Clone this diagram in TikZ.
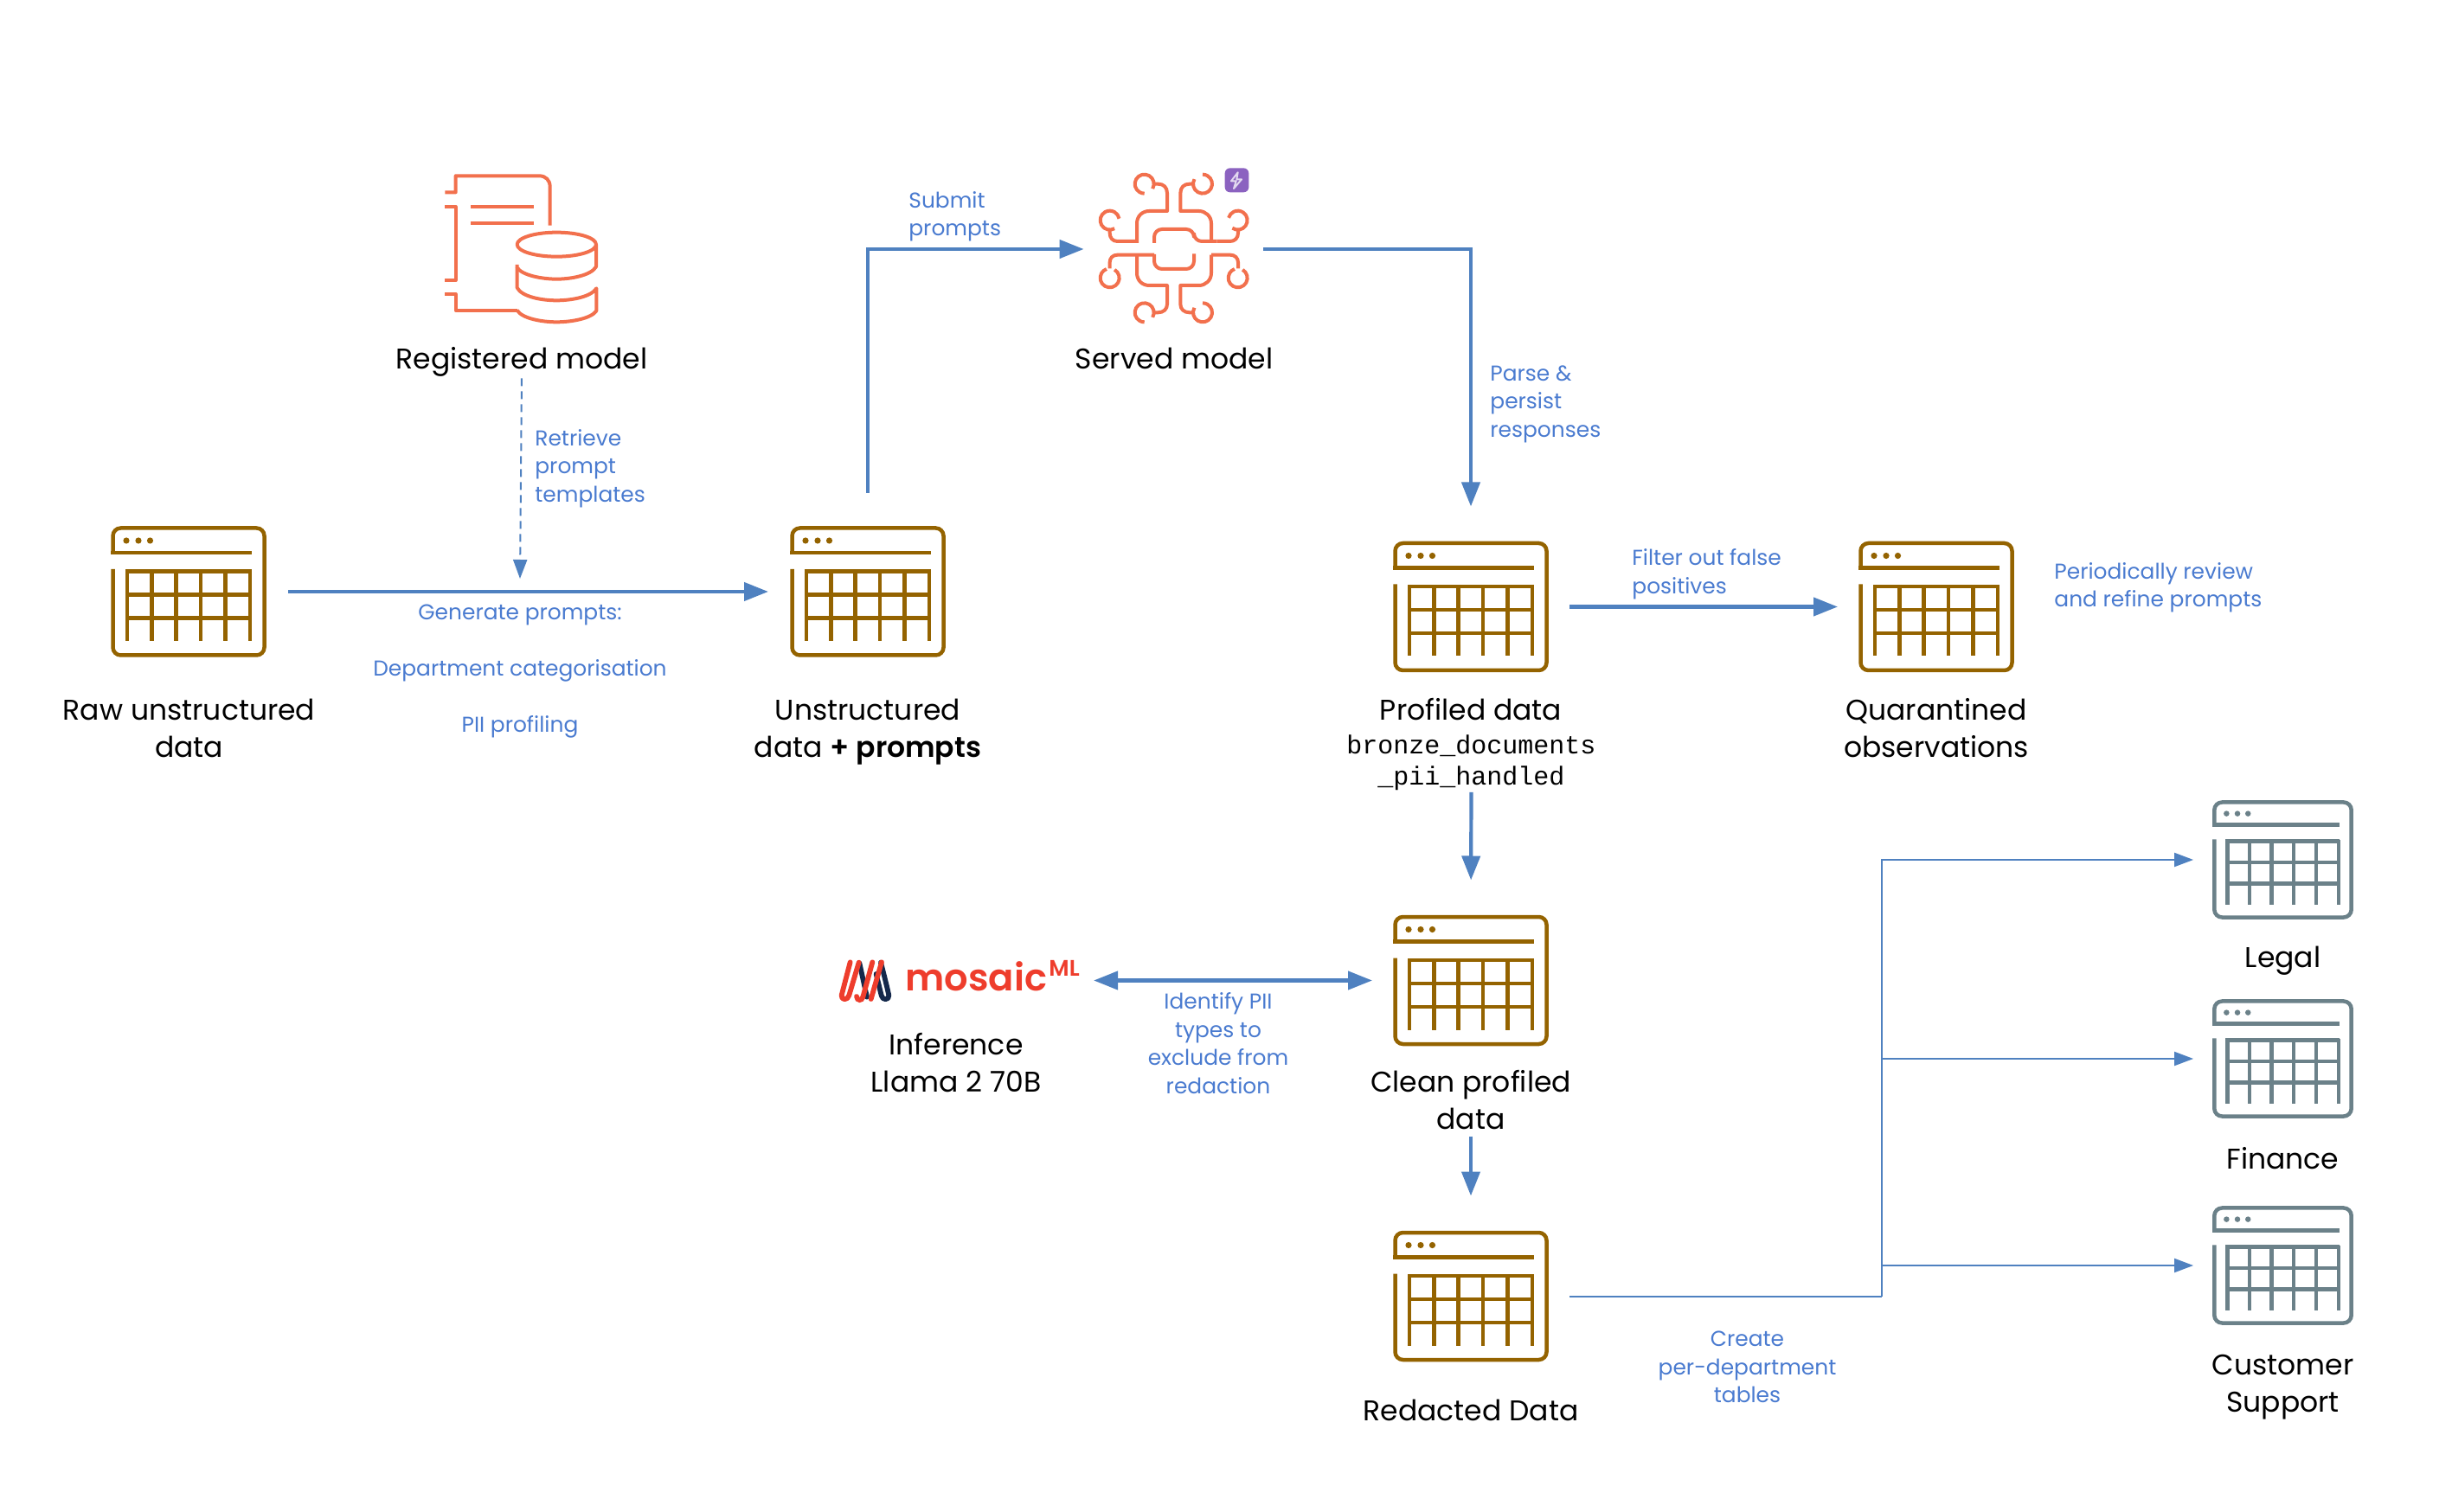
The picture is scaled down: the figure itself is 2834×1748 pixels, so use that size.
\documentclass[tikz,border=0pt]{standalone}
\usepackage{fontspec}
\setmainfont{Poppins}
\setmonofont{Liberation Mono}
\usetikzlibrary{arrows.meta,calc}
\definecolor{flow}{HTML}{4F81C0}
\definecolor{lab}{HTML}{4A7BD0}
\definecolor{brownic}{HTML}{946300}
\definecolor{grayic}{HTML}{6B8189}
\definecolor{coral}{HTML}{F2704D}
\definecolor{badge}{HTML}{8B62C0}
\definecolor{mosred}{HTML}{EE3D2C}
\definecolor{mosnavy}{HTML}{14284B}
\tikzset{
  iconbox/.style={rectangle,inner sep=0pt,outer sep=0pt,minimum width=#1*90pt,minimum height=#1*76pt},
  title/.style={align=center,font=\fontsize{16.5pt}{21.5pt}\selectfont,text=black,inner sep=0pt},
  note/.style={align=left,font=\fontsize{12.45pt}{16.25pt}\selectfont,text=lab,inner sep=0pt},
  notec/.style={note,align=center},
  mono/.style={align=center,font=\fontsize{15pt}{18pt}\selectfont\ttfamily,text=black,inner sep=0pt},
  thick flow/.style={draw=flow,line width=2.1pt,-{Triangle[length=14pt,width=10.5pt]}},
  both flow/.style={draw=flow,line width=2.1pt,{Triangle[length=14pt,width=10.5pt]}-{Triangle[length=14pt,width=10.5pt]}},
  thin flow/.style={draw=flow,line width=1pt,-{Triangle[length=11pt,width=8pt]}},
  thin plain/.style={draw=flow,line width=1pt},
  dash flow/.style={draw=flow,line width=1pt,dash pattern=on 4.5pt off 3pt,-{Triangle[length=11pt,width=8pt]}},
  coralline/.style={draw=coral,line width=2pt,line join=round},
}
\newcommand{\tableicon}[5]{%
  \node[iconbox=#4] (#1) at (#2,#3) {};
  \begin{scope}[shift={({#2-90*#4},{#3-76*#4})},scale=#4,draw=#5,line width=2.25pt]
    \draw[rounded corners=4.5pt] (2.5,31) -- (2.5,2.5) -- (177.5,2.5) -- (177.5,149.5) -- (2.5,149.5) -- (2.5,50);
    \draw (0.3,31) -- (162.7,31);
    \fill[#5] (18,17) circle[radius=3.6] (32,17) circle[radius=3.6] (45.5,17) circle[radius=3.6];
    \draw (17,52.5) -- (162,52.5);
    \foreach \gx in {19,47.3,75.7,104,132.7,161}{\draw (\gx,50.5) -- (\gx,133);}
    \foreach \gy in {79.3,106.3}{\draw (19,\gy) -- (161,\gy);}
  \end{scope}
}
\begin{document}
\begin{tikzpicture}[x=0.5pt,y=0.5pt,yscale=-1]
\useasboundingbox (0,0) rectangle (2834,1748);
\fill[white] (0,0) rectangle (2834,1748);

% table icons
\tableicon{raw}{218}{684}{1}{brownic}
\tableicon{unstr}{1003}{684}{1}{brownic}
\tableicon{profiled}{1700}{701.5}{1}{brownic}
\tableicon{quar}{2238}{701.5}{1}{brownic}
\tableicon{clean}{1700}{1133.5}{1}{brownic}
\tableicon{redacted}{1700}{1498.5}{1}{brownic}
\tableicon{legal}{2638.5}{994}{.905}{grayic}
\tableicon{finance}{2638.5}{1224}{.905}{grayic}
\tableicon{support}{2638.5}{1463}{.905}{grayic}

% registered model icon
\node[rectangle,inner sep=0pt,minimum width=90pt,minimum height=90pt] (regicon) at (604,287) {};
\begin{scope}[shift={(480,170)},scale=1/3]
  \draw[coralline] (103,157) -- (140,157) -- (140,100) -- (430,100) .. controls (452,100) and (467,115) .. (467,137) -- (467,272);
  \draw[coralline] (103,207) -- (140,207) -- (140,462) -- (103,462);
  \draw[coralline] (103,510) -- (140,510) -- (140,566) -- (355,566);
  \draw[coralline] (192,207) -- (412,207) (192,265) -- (412,265);
  \draw[coralline] (490,338) ellipse[x radius=137,y radius=42];
  \draw[coralline] (627,338) -- (627,415) .. controls (610,445) and (540,458) .. (490,458) .. controls (440,458) and (370,445) .. (353,418) -- (353,408);
  \draw[coralline] (353,418) -- (353,488) .. controls (370,520) and (440,532) .. (490,532) .. controls (540,532) and (610,520) .. (628,490) -- (628,568) .. controls (610,595) and (540,607) .. (490,607) .. controls (440,607) and (370,595) .. (353,566);
\end{scope}

% served model icon
\node[rectangle,inner sep=0pt,minimum width=90pt,minimum height=90pt] (servedicon) at (1357,288) {};
\begin{scope}[shift={(1240,170)},scale=1/3]
  \draw[coralline,rounded corners=4.5pt] (282,333) -- (282,285) -- (420,285) -- (420,327) -- (500,327);
  \draw[coralline] (500,327) -- (545,327) .. controls (562,327) and (573,315) .. (573,298) -- (573,287);
  \draw[coralline] (572,254) ++(125:33) arc[start angle=125,delta angle=-290,radius=33];
  \draw[coralline] (222,327) -- (155,327) .. controls (138,327) and (128,315) .. (128,298) -- (128,287);
  \draw[coralline] (128,254) ++(60:33) arc[start angle=60,delta angle=290,radius=33];
  \draw[coralline] (222,333) -- (222,265) .. controls (222,240) and (240,222) .. (265,222) -- (327,222) -- (327,160) .. controls (327,140) and (315,128) .. (295,128) -- (281,128);
  \draw[coralline] (248,128) ++(30:33) arc[start angle=30,delta angle=-300,radius=33];
  \draw[coralline] (480,327) -- (480,265) .. controls (480,240) and (460,222) .. (437,222) -- (373,222) -- (373,160) .. controls (373,140) and (385,128) .. (405,128) -- (417,128);
  \draw[coralline] (450,128) ++(210:33) arc[start angle=210,delta angle=-300,radius=33];
  \draw[coralline,rounded corners=4.5pt] (282,372) -- (282,423) -- (420,423) -- (420,370);
  \draw[coralline] (282,374) -- (155,374) .. controls (138,374) and (128,385) .. (128,400) -- (128,421);
  \draw[coralline] (128,454) ++(-60:33) arc[start angle=-60,delta angle=310,radius=33];
  \draw[coralline] (480,374) -- (545,374) .. controls (562,374) and (573,385) .. (573,400) -- (573,421);
  \draw[coralline] (572,454) ++(-60:33) arc[start angle=-60,delta angle=310,radius=33];
  \draw[coralline] (222,374) -- (222,437) .. controls (222,462) and (240,480) .. (265,480) -- (327,480) -- (327,545) .. controls (327,562) and (315,574) .. (295,574) -- (281,574);
  \draw[coralline] (248,574) ++(30:33) arc[start angle=30,delta angle=-300,radius=33];
  \draw[coralline] (480,374) -- (480,437) .. controls (480,462) and (460,480) .. (437,480) -- (373,480) -- (373,545) .. controls (373,562) and (385,574) .. (405,574) -- (417,574);
  \draw[coralline] (450,574) ++(210:33) arc[start angle=210,delta angle=-300,radius=33];
  \fill[badge,rounded corners=3pt] (527,73) rectangle (610,157);
  \draw[draw=white!75!badge,line width=1pt,line join=round] (572,88) -- (549,118) -- (566,118) -- (558,144) -- (585,112) -- (568,112) -- cycle;
\end{scope}

% mosaic logo
\node[rectangle,inner sep=0pt,minimum width=31pt,minimum height=25pt] (mosaicmark) at (999,1132) {};
\begin{scope}[shift={(940,1080)},scale=1/3]
  \draw[mosnavy,line width=2.9pt,line cap=round,line join=round] (160,100) -- (186,218);
  \draw[mosnavy,line width=2.9pt,line cap=round,line join=round] (234,98) .. controls (245,140) and (255,180) .. (262,212) .. controls (264,230) and (238,230) .. (236,212) -- (218,138);
  \draw[mosred,line width=2.9pt,line cap=round,line join=round] (128,97) -- (98,212) .. controls (96,230) and (120,230) .. (124,212) -- (158,98);
  \draw[mosred,line width=2.9pt,line cap=round,line join=round] (205,97) -- (172,218);
  \draw[mosred,line width=2.9pt,line cap=round,line join=round] (237,97) -- (200,225);
  \draw[mosred,line width=2.9pt,line cap=round] (172,218) .. controls (168,232) and (152,232) .. (150,216);
\end{scope}
\node[inner sep=0pt,anchor=base west,font=\fontsize{21.6pt}{22pt}\selectfont\fontspec{Poppins SemiBold},text=mosred] (mosaicname) at (1046,1145) {mosaic};
\node[inner sep=0pt,anchor=base west,font=\fontsize{13pt}{13pt}\selectfont\fontspec{Poppins SemiBold},text=mosred] (mosaicsup) at (1212,1128) {ML};

% titles
\node[title] (regT) at (603,418) {Registered model};
\node[title] (servT) at (1357,414) {Served model};
\node[title] (rawT) at (218.6,842) {Raw unstructured\\data};
\node[title] (unstrT) at (1003,846) {Unstructured\\data {\fontspec{Poppins SemiBold}+ prompts}};
\node[title] (profT) at (1700,820.5) {Profiled data};
\node[mono] (profM) at (1700.5,881.5) {bronze\_documents\\\_pii\_handled};
\node[title] (quarT) at (2238,842) {Quarantined\\observations};
\node[title] (infT) at (1105,1229) {Inference\\Llama 2 70B};
\node[title] (cleanT) at (1700,1272) {Clean profiled\\data};
\node[title] (redT) at (1700,1630) {Redacted Data};
\node[title] (legalT) at (2638.5,1111) {Legal};
\node[title] (finT) at (2638.5,1339) {Finance};
\node[title] (supT) at (2638.5,1604) {Customer\\Support};

% connector labels
\node[note,anchor=west] (l1) at (618,541.5) {Retrieve\\prompt\\templates};
\node[notec] (l2) at (601,776.5) {Generate prompts:\\[16.25pt]Department categorisation\\[16.25pt]PII profiling};
\node[note,anchor=west] (l3) at (1050,250.5) {Submit\\prompts};
\node[note,anchor=west] (l4) at (1722,467) {Parse \&\\persist\\responses};
\node[note,anchor=west] (l5) at (1886,663.5) {Filter out false\\positives};
\node[note,anchor=west] (l6) at (2374,679.5) {Periodically review\\and refine prompts};
\node[notec] (l7) at (1408,1206) {Identify PII\\types to\\exclude from\\redaction};
\node[notec] (l8) at (2019.5,1580.5) {Create\\per-department\\tables};

% connectors
\coordinate (gen) at (601,669);
\coordinate (bus) at (2175,1498.5);
\draw[dash flow,shorten <=1pt] (regT.south) -- (gen);
\draw[thick flow,shorten <=12.5pt,shorten >=12.5pt] (raw.east) -- (unstr.west);
\draw[thick flow,shorten <=19pt,shorten >=7pt] (unstr.north) |- (servedicon.west);
\draw[thick flow,shorten <=6.5pt,shorten >=20pt] (servedicon.east) -| (profiled.north);
\draw[thick flow,shorten <=12pt,shorten >=12pt] (profiled.east) -- (quar.west);
\draw[thick flow,shorten <=1pt,shorten >=20pt] (profM.south) -- (clean.north);
\draw[both flow,shorten <=5pt,shorten >=12pt] (mosaicsup.east |- clean.west) ++(6,0) -- (clean.west);
\draw[thick flow,shorten <=3.5pt,shorten >=20pt] (cleanT.south) -- (redacted.north);
\draw[thin plain,shorten <=12pt] (redacted.east) -- (bus);
\draw[thin flow,shorten >=11pt] (bus) |- (legal.west);
\draw[thin flow,shorten >=11pt] (bus |- finance.west) -- (finance.west);
\draw[thin flow,shorten >=11pt] (bus |- support.west) -- (support.west);
\end{tikzpicture}
\end{document}
